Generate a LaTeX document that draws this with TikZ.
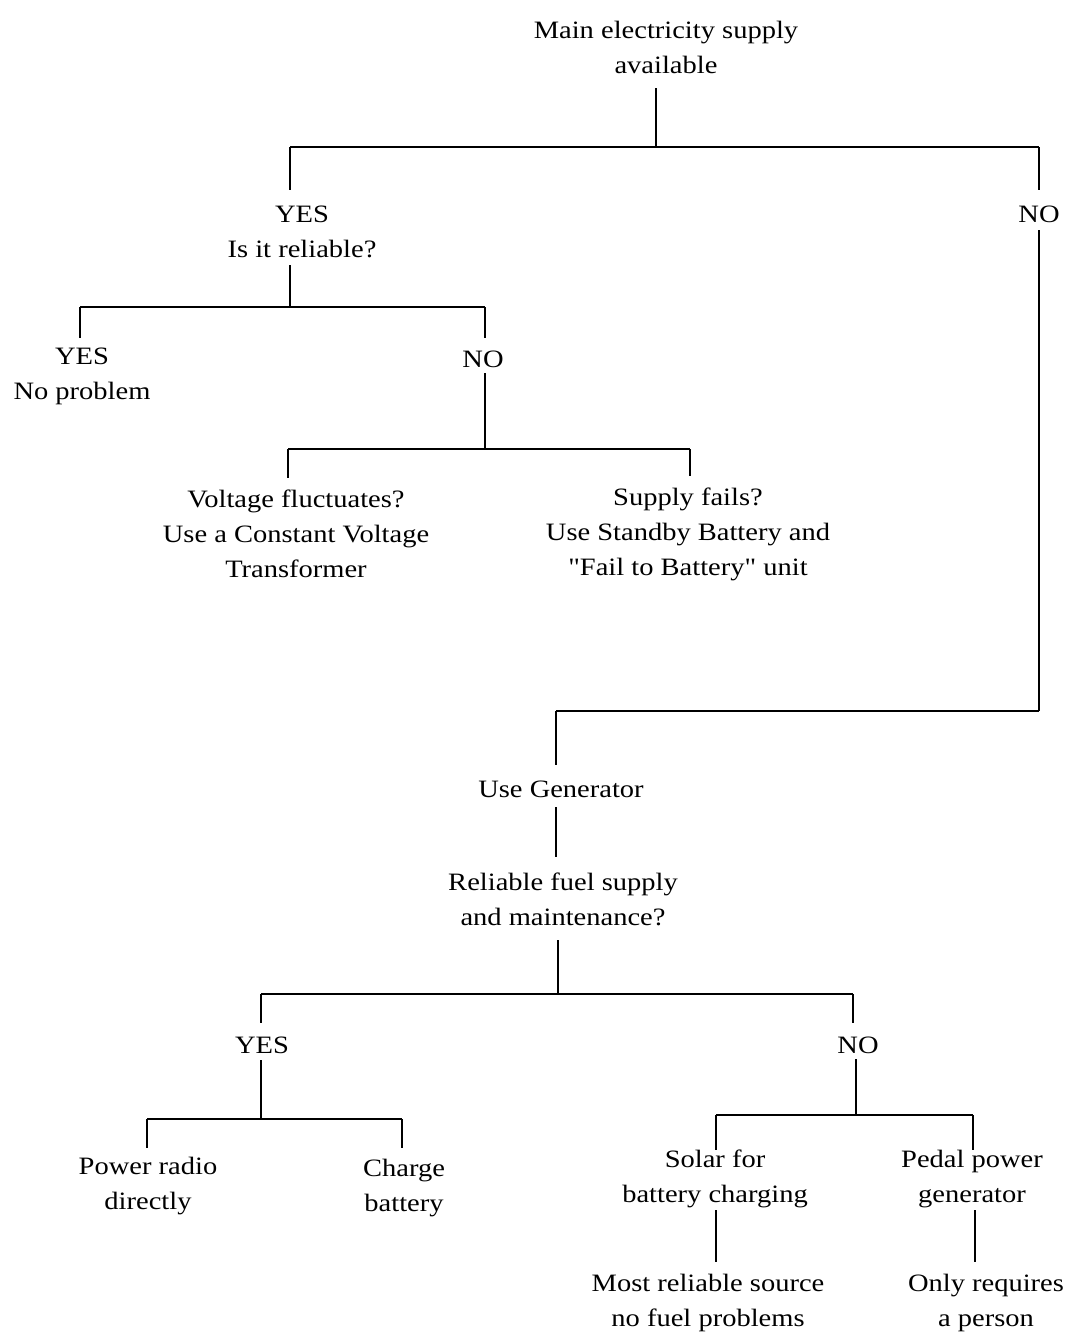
\documentclass[tikz,border=0pt]{standalone}
\usepackage{fontspec}
\setmainfont{Liberation Serif}[FakeStretch=1.14,Ligatures=TeXOff]
\begin{document}
\begin{tikzpicture}[x=1pt,y=-1pt,
  t/.style={align=center,inner sep=0pt,font=\fontsize{25}{35}\selectfont},
  ln/.style={line width=1.6pt},
  bar/.style={line width=2.4pt}]
\useasboundingbox[fill=white] (0,0) rectangle (1071,1333);
% text nodes
\node[t] (main) at (666,47) {Main electricity supply\\available};
\node[t] (yes1) at (302,232) {YES\\Is it reliable?};
\node[t] (no1) at (1039,214) {NO};
\node[t] (yes2) at (82,376) {YES\\No problem};
\node[t] (no2) at (483,359) {NO};
\node[t] (volt) at (296,534) {Voltage fluctuates?\\Use a Constant Voltage\\Transformer};
\node[t] (fail) at (688,534) {Supply fails?\\Use Standby Battery and\\"Fail to Battery" unit};
\node[t] (gen) at (561,789) {Use Generator};
\node[t] (fuel) at (563,899) {Reliable fuel supply\\and maintenance?};
\node[t] (yes3) at (262,1045) {YES};
\node[t] (no3) at (858,1045) {NO};
\node[t] (radio) at (148,1186) {Power radio\\directly};
\node[t] (charge) at (404,1188) {Charge\\battery};
\node[t] (solar) at (715,1179) {Solar for\\battery charging};
\node[t] (pedal) at (972,1179) {Pedal power\\generator};
\node[t] (most) at (708,1303) {Most reliable source\\no fuel problems};
\node[t] (only) at (986,1303) {Only requires\\a person};
% junction coordinates
\coordinate (a0) at (656,88);   \coordinate (a1) at (656,147);
\coordinate (aL) at (290,147);  \coordinate (aR) at (1039,147);
\coordinate (aLd) at (290,190); \coordinate (aRd) at (1039,190);
\coordinate (b0) at (290,265);  \coordinate (b1) at (290,307);
\coordinate (bL) at (80,307);   \coordinate (bR) at (485,307);
\coordinate (bLd) at (80,338);  \coordinate (bRd) at (485,338);
\coordinate (c0) at (485,373);  \coordinate (c1) at (485,449);
\coordinate (cL) at (288,449);  \coordinate (cR) at (690,449);
\coordinate (cLd) at (288,478); \coordinate (cRd) at (690,476);
\coordinate (d0) at (1039,230); \coordinate (d1) at (1039,711);
\coordinate (d2) at (556,711);  \coordinate (d3) at (556,765);
\coordinate (e0) at (556,807);  \coordinate (e1) at (556,857);
\coordinate (f0) at (558,940);  \coordinate (f1) at (558,994);
\coordinate (fL) at (261,994);  \coordinate (fR) at (853,994);
\coordinate (fLd) at (261,1023);\coordinate (fRd) at (853,1023);
\coordinate (g0) at (261,1060); \coordinate (g1) at (261,1119);
\coordinate (gL) at (147,1119); \coordinate (gR) at (402,1119);
\coordinate (gLd) at (147,1148);\coordinate (gRd) at (402,1148);
\coordinate (h0) at (856,1059); \coordinate (h1) at (856,1115);
\coordinate (hL) at (716,1115); \coordinate (hR) at (973,1115);
\coordinate (hLd) at (716,1150);\coordinate (hRd) at (973,1150);
\coordinate (i0) at (716,1210); \coordinate (i1) at (716,1262);
\coordinate (j0) at (975,1210); \coordinate (j1) at (975,1262);
% connectors
\draw[ln] (a0) -- (a1);
\draw[bar] (aL) -- (aR);
\draw[ln] (aL) -- (aLd);
\draw[ln] (aR) -- (aRd);
\draw[ln] (b0) -- (b1);
\draw[bar] (bL) -- (bR);
\draw[ln] (bL) -- (bLd);
\draw[ln] (bR) -- (bRd);
\draw[ln] (c0) -- (c1);
\draw[bar] (cL) -- (cR);
\draw[ln] (cL) -- (cLd);
\draw[ln] (cR) -- (cRd);
\draw[ln] (d0) -- (d1);
\draw[bar] (d1) -- (d2);
\draw[ln] (d2) -- (d3);
\draw[ln] (e0) -- (e1);
\draw[ln] (f0) -- (f1);
\draw[bar] (fL) -- (fR);
\draw[ln] (fL) -- (fLd);
\draw[ln] (fR) -- (fRd);
\draw[ln] (g0) -- (g1);
\draw[bar] (gL) -- (gR);
\draw[ln] (gL) -- (gLd);
\draw[ln] (gR) -- (gRd);
\draw[ln] (h0) -- (h1);
\draw[bar] (hL) -- (hR);
\draw[ln] (hL) -- (hLd);
\draw[ln] (hR) -- (hRd);
\draw[ln] (i0) -- (i1);
\draw[ln] (j0) -- (j1);
\end{tikzpicture}
\end{document}
